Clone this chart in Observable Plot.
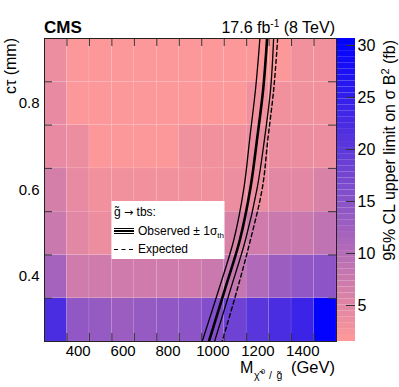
<!DOCTYPE html>
<html><head><meta charset="utf-8">
<script src="https://cdn.jsdelivr.net/npm/d3@7"></script>
<script src="https://cdn.jsdelivr.net/npm/@observablehq/plot@0.6"></script>
<style>
html,body{margin:0;padding:0;background:#fff;}
#chart{position:relative;width:399px;height:387px;overflow:hidden;}
#chart svg{position:absolute;left:0;top:0;max-width:none;}
</style></head><body><div id="chart"></div>
<script>
// ---- data ----
const massBins = [300,400,500,600,700,800,900,1000,1100,1200,1300,1400,1500];
const ctauBins = [0.3,0.4,0.5,0.6,0.7,0.8,0.9];
const limitCt03 = [22.2,14.0,13.4,13.1,13.3,13.8,14.9,16.1,17.9,20.4,22.2,24.0,30.6];
const limitCt04 = [11.5,7.0,6.9,6.9,6.9,6.9,7.2,7.4,8.3,10.6,12.9,14.2,14.9];
const limitCt05 = [7.4,5.0,3.3,4.5,4.6,4.7,5.0,5.0,6.0,6.9,7.4,7.8,8.7];
const limitCt06 = [6.5,4.2,3.0,3.0,3.0,3.0,3.2,3.2,3.3,3.4,4.5,4.6,6.0];
const limitCt07 = [4.3,3.3,2.1,2.1,2.1,2.1,3.2,2.9,2.9,3.6,3.6,3.7,3.8];
const limitCt08 = [4.3,2.0,1.9,1.9,1.9,1.9,1.9,1.9,1.9,2.8,2.8,2.8,2.9];
const limitCt09 = [3.5,1.9,1.8,1.8,1.8,1.8,1.8,1.8,1.9,1.9,1.9,2.9,3.0];

const contourCt    = [0.95,0.835,0.72,0.605,0.485,0.37,0.25];
const obsMass      = [1241,1224,1197,1167,1120,1053,982];
const obsMinusMass = [1209,1190,1164,1138,1093,1026,952];
const obsPlusMass  = [1270,1257,1230,1197,1145,1078,1007];
const expMass      = [1288,1271,1245,1220,1167,1108,1041];

const massEdgeTicks = [350,450,550,650,750,850,950,1050,1150,1250,1350,1450];
const massLabels = [400,600,800,1000,1200,1400];
const ctauEdgeTicks = [0.35,0.45,0.55,0.65,0.75,0.85];
const ctauLabels = [0.4,0.6,0.8];
const colorTicks = [5,10,15,20,25,30];
const colorDomain = [1.54, 30.67];
const paletteLow = "#ff9999", paletteHigh = "#0000ff";
const nContours = 50;

// ---- build ----
const font = "'Liberation Sans', Arial, Helvetica, sans-serif";
const limitRows = [limitCt03, limitCt04, limitCt05, limitCt06, limitCt07, limitCt08, limitCt09];
const dm = massBins[1] - massBins[0];
const dc = +(ctauBins[1] - ctauBins[0]).toFixed(3);
const xDom = [massBins[0] - dm/2, massBins[massBins.length-1] + dm/2];
const yDom = [ctauBins[0] - dc/2, ctauBins[ctauBins.length-1] + dc/2];
const step = (colorDomain[1] - colorDomain[0]) / nContours;
const quant = v => colorDomain[0] + (Math.max(0, Math.min(nContours-1, Math.floor((v - colorDomain[0]) / step))) + 0.5) * step;
const cells = ctauBins.flatMap((ct, i) => massBins.map((m, j) => ({m, ct, v: limitRows[i][j]})));
const curve = arr => arr.map((m, i) => ({m, ct: contourCt[i]}));
const colorScale = {type: "linear", domain: colorDomain, range: [paletteLow, paletteHigh], interpolate: "rgb"};

const main = Plot.plot({
  width: 399, height: 387, marginLeft: 44, marginRight: 63, marginTop: 38, marginBottom: 46,
  style: {fontFamily: font, background: "transparent"},
  x: {domain: xDom}, y: {domain: yDom},
  color: colorScale,
  marks: [
    Plot.rect(cells, {x1: d => d.m - dm/2, x2: d => d.m + dm/2, y1: d => d.ct - dc/2, y2: d => d.ct + dc/2,
      fill: d => quant(d.v), stroke: "#fff", strokeOpacity: 0.12, strokeWidth: 0.6}),
    Plot.line(curve(obsMinusMass), {x: "m", y: "ct", stroke: "#000", strokeWidth: 1.3, curve: "catmull-rom", clip: true}),
    Plot.line(curve(obsPlusMass), {x: "m", y: "ct", stroke: "#000", strokeWidth: 1.3, curve: "catmull-rom", clip: true}),
    Plot.line(curve(obsMass), {x: "m", y: "ct", stroke: "#000", strokeWidth: 2.6, curve: "catmull-rom", clip: true}),
    Plot.line(curve(expMass), {x: "m", y: "ct", stroke: "#000", strokeWidth: 1.4, strokeDasharray: "4,3", curve: "catmull-rom", clip: true}),
    Plot.ruleX(massEdgeTicks, {x: d => d, y1: yDom[0], y2: yDom[0], insetTop: -8, stroke: "#333"}),
    Plot.ruleX(massEdgeTicks, {x: d => d, y1: yDom[1], y2: yDom[1], insetBottom: -8, stroke: "#333"}),
    Plot.ruleY(ctauEdgeTicks, {y: d => d, x1: xDom[0], x2: xDom[0], insetRight: -8, stroke: "#333"}),
    Plot.ruleY(ctauEdgeTicks, {y: d => d, x1: xDom[1], x2: xDom[1], insetLeft: -8, stroke: "#333"}),
    Plot.axisX({ticks: massLabels, tickSize: 0, tickPadding: 3.5, tickFormat: "d", fontSize: 15, label: null}),
    Plot.axisY({ticks: ctauLabels, tickSize: 0, tickPadding: 5, tickFormat: ".1f", fontSize: 15, label: null}),
    Plot.frame({stroke: "#222", strokeWidth: 1})
  ]
});

const bands = d3.range(nContours).map(i => ({lo: colorDomain[0] + i*step, hi: colorDomain[0] + (i+1)*step, mid: colorDomain[0] + (i+0.5)*step}));
const bar = Plot.plot({
  width: 399, height: 387, marginLeft: 337, marginRight: 44, marginTop: 38, marginBottom: 46,
  style: {fontFamily: font, background: "transparent"},
  x: {domain: [0, 1], axis: null}, y: {domain: colorDomain},
  color: colorScale,
  marks: [
    Plot.rect(bands, {x1: 0, x2: 1, y1: "lo", y2: "hi", fill: "mid"}),
    Plot.ruleY(colorTicks, {y: d => d, x1: 1, x2: 1, insetLeft: -9, stroke: "#333"}),
    Plot.axisY({ticks: colorTicks, anchor: "right", tickSize: 0, tickPadding: 2, fontSize: 16, label: null})
  ]
});

document.getElementById("chart").append(main, bar);

// ---- annotations ----
const ann = d3.select(main).append("g").attr("font-family", font).attr("fill", "#000").attr("text-anchor", "start");
ann.append("text").attr("x", 44).attr("y", 33).attr("font-weight", "bold").attr("font-size", 17).text("CMS");
const lumi = ann.append("text").attr("x", 335).attr("y", 33).attr("text-anchor", "end").attr("font-size", 16);
lumi.append("tspan").text("17.6 fb");
lumi.append("tspan").attr("font-size", 10).attr("dy", -6).text("-1");
lumi.append("tspan").attr("dy", 6).text("\u00a0(8 TeV)");

ann.append("text").attr("transform", "translate(15.5,38) rotate(-90)").attr("text-anchor", "end").attr("font-size", 16).text("cτ (mm)");

const ct = ann.append("text").attr("transform", "translate(394.5,40) rotate(-90)").attr("text-anchor", "end").attr("font-size", 16);
ct.append("tspan").text("95% CL upper limit on σ B");
ct.append("tspan").attr("font-size", 11).attr("dy", -6).text("2");
ct.append("tspan").attr("dy", 6).text("\u00a0(fb)");

ann.append("text").attr("x", 240).attr("y", 373).attr("font-size", 16).text("M");
ann.append("text").attr("x", 254).attr("y", 379).attr("font-size", 10.5).text("χ̃");
ann.append("text").attr("x", 261).attr("y", 374).attr("font-size", 7.5).text("0");
ann.append("text").attr("x", 269).attr("y", 379).attr("font-size", 10.5).text("/");
ann.append("text").attr("x", 276.5).attr("y", 379).attr("font-size", 10.5).text("g̃");
ann.append("text").attr("x", 335).attr("y", 373).attr("text-anchor", "end").attr("font-size", 16.5).text("(GeV)");

// legend
ann.append("rect").attr("x", 111.5).attr("y", 201).attr("width", 113).attr("height", 58).attr("fill", "#fff");
const gT = ann.append("text").attr("x", 114).attr("y", 216).attr("font-size", 12);
gT.append("tspan").text("g̃ ");
gT.append("tspan").attr("font-family", "'DejaVu Sans', sans-serif").attr("font-size", 11).text("→");
gT.append("tspan").text(" tbs:");
ann.append("line").attr("x1", 114).attr("x2", 134).attr("y1", 228.5).attr("y2", 228.5).attr("stroke", "#000").attr("stroke-width", 1);
ann.append("line").attr("x1", 114).attr("x2", 134).attr("y1", 231).attr("y2", 231).attr("stroke", "#000").attr("stroke-width", 2);
ann.append("line").attr("x1", 114).attr("x2", 134).attr("y1", 233.5).attr("y2", 233.5).attr("stroke", "#000").attr("stroke-width", 1);
const obsT = ann.append("text").attr("x", 138).attr("y", 234.5).attr("font-size", 12);
obsT.append("tspan").text("Observed ± 1σ");
obsT.append("tspan").attr("font-size", 8).attr("dy", 3).text("th");
ann.append("line").attr("x1", 114).attr("x2", 134).attr("y1", 249.5).attr("y2", 249.5).attr("stroke", "#000").attr("stroke-width", 1.2).attr("stroke-dasharray", "4,3.5");
ann.append("text").attr("x", 138).attr("y", 253).attr("font-size", 12).text("Expected");
</script></body></html>
